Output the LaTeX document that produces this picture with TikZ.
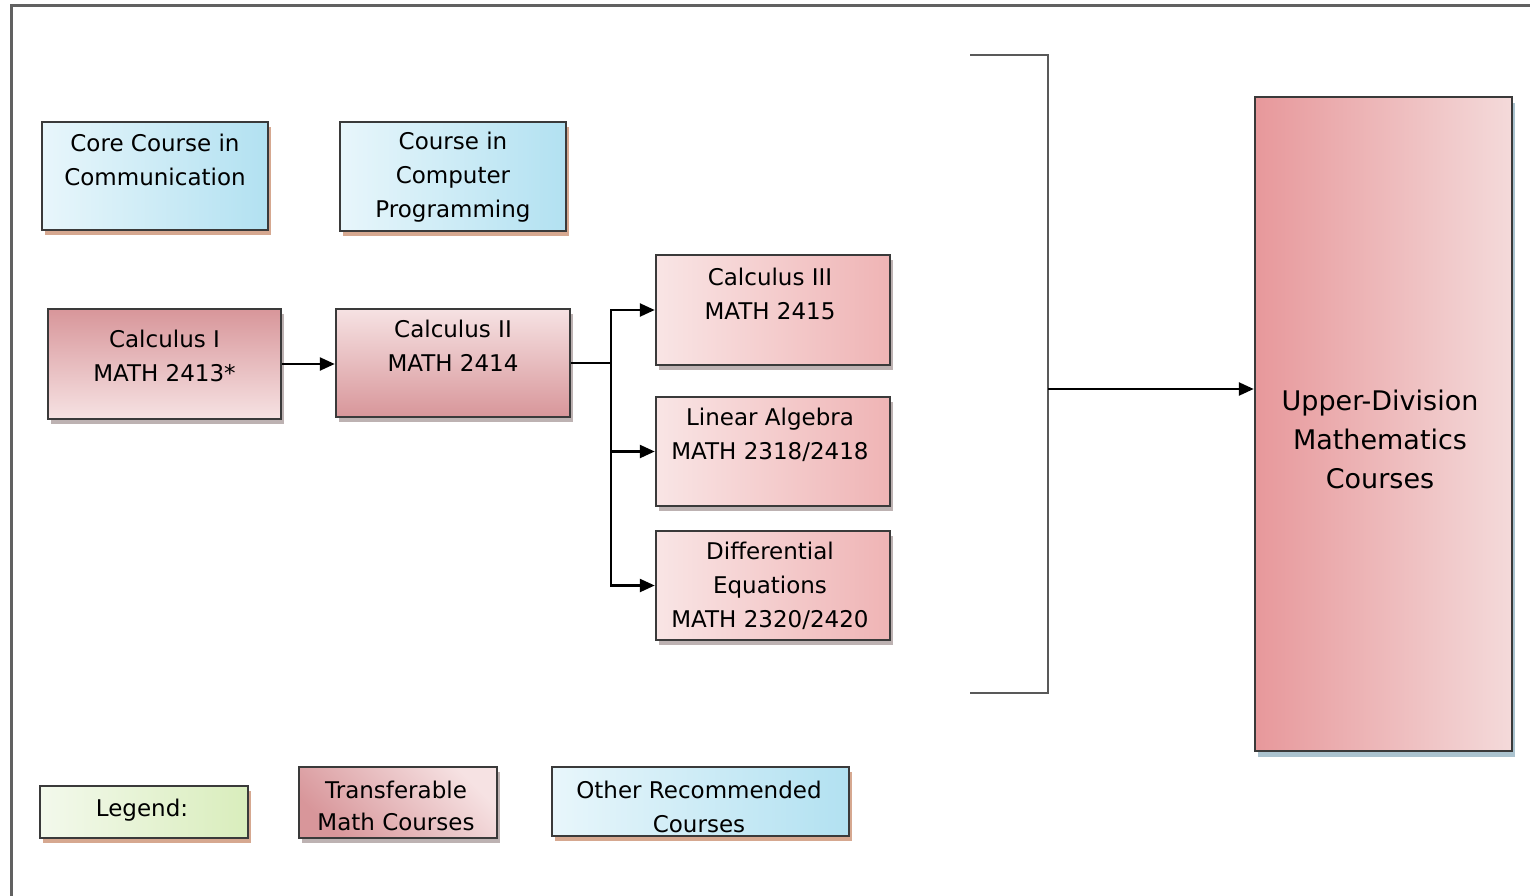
\documentclass[tikz,border=0pt]{standalone}
\usepackage{fontspec}
\setmainfont{DejaVu Sans}
\usetikzlibrary{arrows.meta,shadows}
\definecolor{edge}{HTML}{3A3A3A}
\definecolor{blueL}{HTML}{E8F6FB}
\definecolor{blueR}{HTML}{B2E1F1}
\definecolor{pinkL}{HTML}{F9E5E5}
\definecolor{pinkR}{HTML}{EFB4B5}
\definecolor{pinkD}{HTML}{D8969A}
\definecolor{pinkW}{HTML}{F6E2E3}
\definecolor{upL}{HTML}{E7989B}
\definecolor{upR}{HTML}{F4DADA}
\definecolor{greenL}{HTML}{F3F9EC}
\definecolor{greenR}{HTML}{D9EDBC}
\definecolor{brownsh}{HTML}{C98C6C}
\definecolor{graysh}{HTML}{9A8A8A}
\definecolor{bluesh}{HTML}{8FB0C0}
\tikzset{
  box/.style={draw=edge, line width=2.5pt, inner sep=0pt, rectangle},
  shbrown/.style={drop shadow={shadow xshift=3pt, shadow yshift=-5pt, fill=brownsh, opacity=0.75}},
  shgray/.style={drop shadow={shadow xshift=3pt, shadow yshift=-5pt, fill=graysh, opacity=0.65}},
  shblue/.style={drop shadow={shadow xshift=3pt, shadow yshift=-6pt, fill=bluesh, opacity=0.75}},
  bluebox/.style={box, shbrown, left color=blueL, right color=blueR},
  greenbox/.style={box, shbrown, left color=greenL, right color=greenR},
  pinklr/.style={box, shgray, left color=pinkL, right color=pinkR},
  pinktb/.style={box, shgray, top color=pinkW, bottom color=pinkD},
  pinkbt/.style={box, shgray, top color=pinkD, bottom color=pinkW},
  upbox/.style={box, shblue, left color=upL, right color=upR},
  txt/.style={align=center, inner sep=0pt, font=\fontsize{23}{34}\selectfont},
  bigtxt/.style={align=center, inner sep=0pt, font=\fontsize{27}{39}\selectfont},
  arr/.style={draw=black, line width=2.5pt, -{Triangle[length=15pt,width=13pt]}},
  brk/.style={draw=black!65, line width=2.5pt},
  frame/.style={draw=black!62, line width=3pt}
}
\begin{document}
\begin{tikzpicture}[x=1pt,y=-1pt]
\useasboundingbox (0,0) rectangle (1530,896);
\fill[white] (0,0) rectangle (1530,896);
% outer frame
\draw[frame] (11,900) -- (11,6) -- (1540,6);

% boxes
\node[bluebox, minimum width=226pt, minimum height=108pt] (core) at (155,176) {};
\node[txt] (coret) at (155,160) {Core Course in\\Communication};
\node[bluebox, minimum width=226pt, minimum height=109pt] (prog) at (453,176.5) {};
\node[txt] (progt) at (453,177) {Course in\\Computer\\Programming};

\node[pinkbt, minimum width=233pt, minimum height=110pt] (c1) at (164.5,364) {};
\node[txt] (c1t) at (164.5,356) {Calculus I\\MATH 2413*};
\node[pinktb, minimum width=234pt, minimum height=108pt] (c2) at (453,363) {};
\node[txt] (c2t) at (453,346) {Calculus II\\MATH 2414};

\node[pinklr, minimum width=234pt, minimum height=110pt] (c3) at (773,310) {};
\node[txt] (c3t) at (770,294) {Calculus III\\MATH 2415};
\node[pinklr, minimum width=234pt, minimum height=109pt] (la) at (773,451.5) {};
\node[txt] (lat) at (770,435) {Linear Algebra\\MATH 2318/2418};
\node[pinklr, minimum width=234pt, minimum height=109pt] (de) at (773,585.5) {};
\node[txt] (det) at (770,586) {Differential\\Equations\\MATH 2320/2420};

\node[upbox, minimum width=257pt, minimum height=654pt] (up) at (1383.5,424) {};
\node[bigtxt] (upt) at (1380,439) {Upper-Division\\Mathematics\\Courses};

% legend
\node[greenbox, minimum width=208pt, minimum height=52pt] (leg) at (144,812) {};
\node[txt] (legt) at (142,810) {Legend:};
\node[pinkbt, minimum width=198pt, minimum height=71pt, shading angle=135] (tr) at (398,802.5) {};
\node[txt, font=\fontsize{23}{32}\selectfont] (trt) at (396,806) {Transferable\\Math Courses};
\node[bluebox, minimum width=297pt, minimum height=69pt] (oth) at (700.5,801.5) {};
\node[txt] (otht) at (699,807) {Other Recommended\\Courses};

% connectors
\draw[arr] (c1.east) -- (c2.west |- c1.east);
\coordinate (j) at (611,363);
\draw[line width=2.5pt] (c2.east) -- (j);
\draw[arr] (j) |- (c3.west);
\draw[arr] (j) |- (la.west);
\draw[arr] (j) |- (de.west);

% bracket
\coordinate (bt) at (970,55);
\coordinate (bb) at (970,693);
\coordinate (bm) at (1048,389);
\draw[brk] (bt) -- (1048,55) -- (1048,693) -- (bb);
\draw[arr] (bm) -- (up.west |- bm);
\end{tikzpicture}
\end{document}
